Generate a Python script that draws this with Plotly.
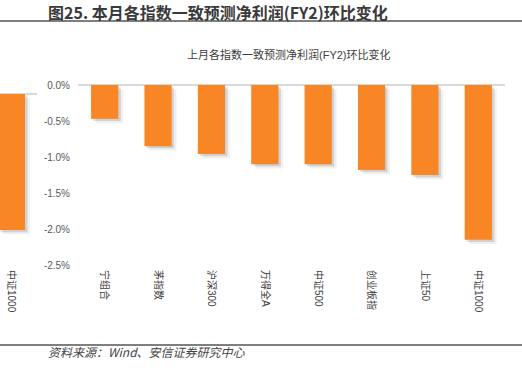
import plotly.graph_objects as go

# ---- data ----
categories = ["宁组合", "茅指数", "沪深300", "万得全A", "中证500", "创业板指", "上证50", "中证1000"]
values = [-0.47, -0.85, -0.96, -1.10, -1.10, -1.18, -1.25, -2.15]
left_categories = ["中证1000"]
left_values = [-1.90]
y_ticks = [0.0, -0.5, -1.0, -1.5, -2.0, -2.5]
y_tick_labels = ["0.0%", "-0.5%", "-1.0%", "-1.5%", "-2.0%", "-2.5%"]

W, H = 522, 370
BAR = "#F98624"
FONT = "Liberation Sans, Arial, Noto Sans CJK SC, sans-serif"
BW = 0.51           # bar width in category units
SH_DX = 0.045       # shadow shift (category units, ~2-3px)
SH_DY = -0.03       # shadow shift (value units, ~2px)

def px_x(p):
    return p / W

def px_y(p):
    return 1 - p / H

fig = go.Figure()

# soft drop shadows (style only, drawn from the same values)
for k, alpha in ((2, 0.06), (1, 0.13)):
    fig.add_trace(go.Bar(x=categories, y=values, width=BW, offset=-BW / 2 + SH_DX * k,
                         base=SH_DY * k, marker=dict(color=f"rgba(0,0,0,{alpha})", line=dict(width=0)),
                         xaxis="x", yaxis="y", showlegend=False, hoverinfo="skip"))
    fig.add_trace(go.Bar(x=left_categories, y=left_values, width=1.0, offset=-0.5 + SH_DX * k * 2,
                         base=SH_DY * k, marker=dict(color=f"rgba(0,0,0,{alpha})", line=dict(width=0)),
                         xaxis="x2", yaxis="y2", showlegend=False, hoverinfo="skip"))

fig.add_trace(go.Bar(x=categories, y=values, width=BW, offset=-BW / 2,
                     marker=dict(color=BAR, line=dict(width=0)),
                     xaxis="x", yaxis="y", showlegend=False, hoverinfo="skip"))
fig.add_trace(go.Bar(x=left_categories, y=left_values, width=1.0, offset=-0.5,
                     marker=dict(color=BAR, line=dict(width=0)),
                     xaxis="x2", yaxis="y2", showlegend=False, hoverinfo="skip"))

top_px, bot_px = 85, 265
ydom = [px_y(bot_px), px_y(top_px)]

fig.update_layout(
    width=W, height=H,
    margin=dict(l=0, r=0, t=0, b=0, pad=0),
    paper_bgcolor="white", plot_bgcolor="white",
    barmode="overlay",
    font=dict(family=FONT, size=10, color="#595959"),
    xaxis=dict(domain=[px_x(78), px_x(505)], type="category", range=[-0.5, 7.5],
               showgrid=False, showline=False, zeroline=False, ticks="", tickangle=90,
               ticklabelstandoff=4,
               automargin=False, tickfont=dict(size=10, color="#404040"), anchor="y"),
    yaxis=dict(domain=ydom, range=[-2.5, 0], tickmode="array", tickvals=y_ticks,
               ticktext=y_tick_labels, showgrid=False, showline=False, zeroline=True,
               zerolinecolor="#D9D9D9", zerolinewidth=1.5, ticks="", automargin=False,
               ticklabelstandoff=7,
               anchor="x", tickfont=dict(size=10, color="#595959")),
    xaxis2=dict(domain=[0, px_x(37)], type="category", range=[-0.426, 0.944], showgrid=False,
                showline=False, zeroline=False, ticks="", tickangle=90, automargin=False,
                ticklabelstandoff=4,
                tickfont=dict(size=10, color="#404040"), anchor="y2"),
    yaxis2=dict(domain=ydom, range=[-2.388, 0.126], showgrid=False, showline=False,
                zeroline=True, zerolinecolor="#D9D9D9", zerolinewidth=1.5,
                showticklabels=False, ticks="", automargin=False, anchor="x2"),
    annotations=[
        dict(text="<b>图25. 本月各指数一致预测净利润(FY2)环比变化</b>", x=px_x(46), y=px_y(12),
             xref="paper", yref="paper", xanchor="left", yanchor="middle", showarrow=False,
             font=dict(size=16, color="#3a3a3a", family="Noto Sans CJK SC")),
        dict(text="上月各指数一致预测净利润(FY2)环比变化", x=px_x(289), y=px_y(54),
             xref="paper", yref="paper", xanchor="center", yanchor="middle", showarrow=False,
             font=dict(size=11, color="#404040", family=FONT)),
        dict(text="<i>资料来源：Wind、安信证券研究中心</i>", x=px_x(46), y=px_y(351),
             xref="paper", yref="paper", xanchor="left", yanchor="middle", showarrow=False,
             font=dict(size=12, color="#444444", family="Noto Sans CJK SC")),
    ],
    shapes=[
        dict(type="line", xref="paper", yref="paper", x0=0, x1=1, y0=px_y(21), y1=px_y(21),
             line=dict(color="#555555", width=1.5)),
        dict(type="line", xref="paper", yref="paper", x0=0, x1=1, y0=px_y(345), y1=px_y(345),
             line=dict(color="#555555", width=1.5)),
    ],
)

fig.write_html("out.html", config={"displayModeBar": False},
               post_script="document.body.style.margin='0';document.body.style.overflow='hidden';")
